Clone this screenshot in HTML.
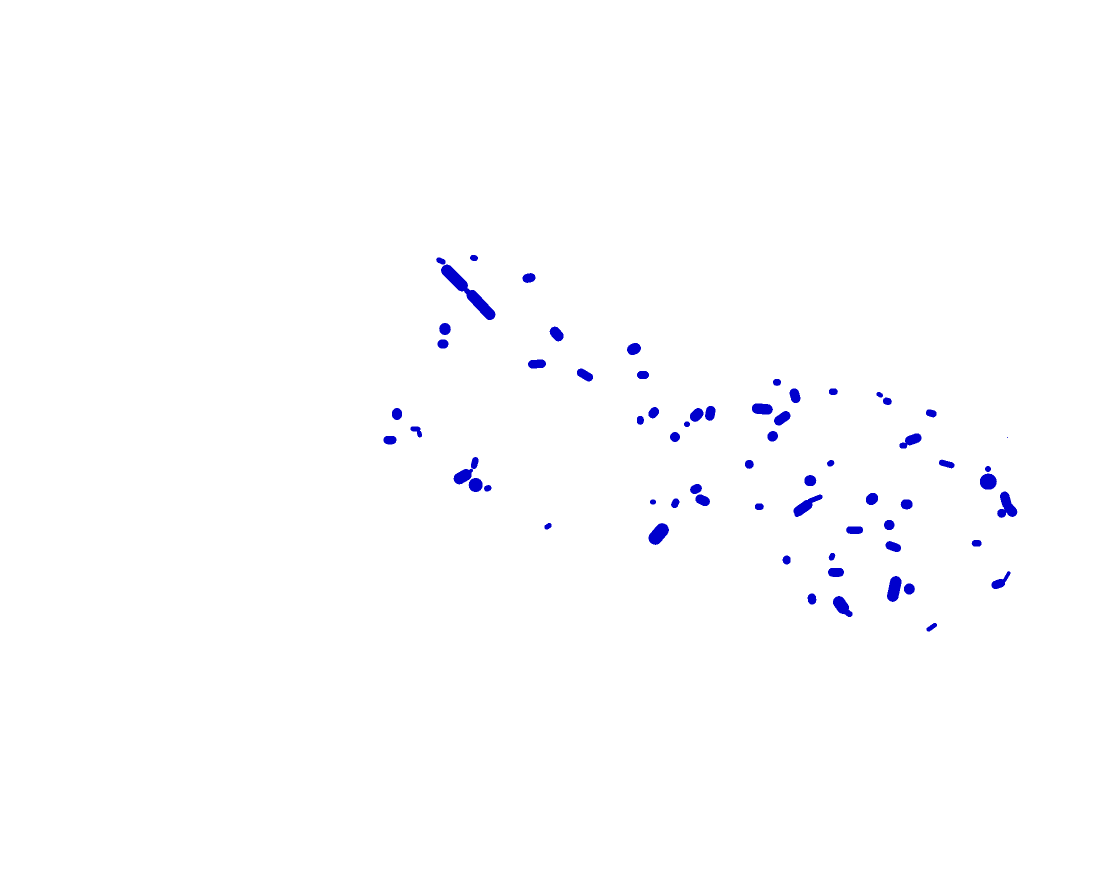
<!DOCTYPE html>
<html lang="en">
<head>
<meta charset="utf-8">
<title>Blob map</title>
<style>
html,body{margin:0;padding:0;background:#fff;width:1100px;height:890px;overflow:hidden}
svg{display:block}
</style>
</head>
<body>
<svg id="chart" width="1100" height="890" viewBox="0 0 1100 890" xmlns="http://www.w3.org/2000/svg">
<rect x="0" y="0" width="1100" height="890" fill="#ffffff"/>
<g id="blobs" fill="#0000cd" shape-rendering="crispEdges"></g>
</svg>
<script>
const blobX = [44.1,47.4,45.45,48.1,48.9,52.9,44.5,44.3,55.67,63.4,53.7,58.5,64.3,39.7,41.55,41.95,39.0,46.27,47.47,47.57,48.77,65.3,54.8,65.87,65.37,64.03,69.67,71.03,68.7,67.5,76.23,79.5,77.7,78.23,77.27,74.93,81.03,69.6,70.27,67.53,75.93,80.3,79.7,78.67,83.33,87.97,88.73,93.13,90.33,91.33,94.67,83.07,98.8,98.83,100.57,101.07,100.17,87.2,90.67,88.93,85.47,89.33,97.67,83.2,83.6,89.43,90.93,99.83,100.67,81.2,84.1,93.17,100.73,46.75,47.05,81.5,84.8];
const blobY = [62.9,63.2,61.2,58.5,57.5,61.2,56.1,54.6,55.6,54.1,52.6,51.5,51.5,47.6,46.1,45.6,45.0,41.33,42.7,40.5,40.17,38.8,36.37,35.6,47.73,46.97,47.5,47.67,46.57,45.3,48.1,49.43,50.77,47.17,45.37,42.57,40.93,40.1,38.97,38.67,38.33,38.2,37.6,33.0,49.83,49.53,48.87,47.67,44.43,45.07,42.6,42.67,42.1,40.83,39,38,37.67,39.1,38.57,36.5,36,34.33,34.67,33.33,31.77,30.1,30.1,30.6,31.33,29.1,28.5,26.27,45.27,59.85,41.85,39.1,27.7];
const blobLength = [1.0,0.8,3.3,3.7,1.0,1.3,1.15,1.1,1.6,1.4,1.8,1.75,1.2,1.2,1.0,0.7,1.3,1.9,1.2,1.4,0.75,0.6,0.8,2.4,1.2,0.9,1.5,1.5,0.6,1.0,2.1,1.5,0.8,1.8,1.1,0.9,1.2,1.2,1.5,1.0,0.9,2.1,0.5,0.8,0.9,0.7,0.9,1.1,0.8,1.7,1.6,0.75,0.6,1.7,1.7,1.5,0.9,1.3,1.2,1.05,1.7,1.6,1.0,0.8,1.6,2.6,1.1,1.4,1.2,1.1,1.9,1.2,0.1,0.8,0.6,1.6,1.0];
const blobWidth = [0.55,0.6,1.15,1.1,0.55,0.9,1.2,0.9,1.05,1.1,0.85,0.85,0.8,1.0,0.5,0.45,0.85,1.15,0.65,1.4,0.6,0.5,0.5,1.35,0.9,0.7,1.05,0.95,0.6,1.0,1.05,0.95,0.7,0.95,1.0,0.9,1.1,0.9,0.95,0.7,0.65,1.0,0.6,0.9,0.65,0.45,0.7,0.7,0.6,0.95,0.6,0.6,0.6,1.6,0.95,1.0,0.9,1.1,1.0,1.05,0.75,0.85,0.65,0.55,0.9,1.15,1.1,0.85,0.35,0.85,1.2,0.45,0.1,0.5,0.35,0.5,0.6];
const blobTilt = [25,10,45,47,40,-10,0,0,50,-25,-3,30,0,90,5,75,0,-30,-75,0,-20,0,-35,-50,-50,90,-45,-80,0,0,5,75,0,-35,-40,0,0,-25,25,-65,0,-35,0,0,0,30,15,15,0,-20,15,-30,0,0,75,50,0,-40,0,0,0,20,0,-65,0,-78,0,-20,-60,85,55,-35,0,45,-50,-22,35];

const plotWidth = 1100;
const plotHeight = 890;
const xDomain = [0, 110];
const yDomain = [0, 89];
function xScale(v) { return (v - xDomain[0]) / (xDomain[1] - xDomain[0]) * plotWidth; }
function yScale(v) { return plotHeight - (v - yDomain[0]) / (yDomain[1] - yDomain[0]) * plotHeight; }
function sizeScale(v) { return v / (xDomain[1] - xDomain[0]) * plotWidth; }

const layer = document.getElementById('blobs');
blobX.forEach(function (value, i) {
  const cx = xScale(value);
  const cy = yScale(blobY[i]);
  const len = sizeScale(blobLength[i]);
  const wid = sizeScale(blobWidth[i]);
  const el = document.createElementNS('http://www.w3.org/2000/svg', 'rect');
  
  
  el.setAttribute('x', cx - len / 2);
  el.setAttribute('y', cy - wid / 2);
  el.setAttribute('width', len);
  el.setAttribute('height', wid);
  el.setAttribute('rx', Math.min(len, wid) / 2);
  el.setAttribute('ry', Math.min(len, wid) / 2);
  el.setAttribute('transform', 'rotate(' + blobTilt[i] + ' ' + cx + ' ' + cy + ')');
  layer.appendChild(el);
});
</script>
</body>
</html>
